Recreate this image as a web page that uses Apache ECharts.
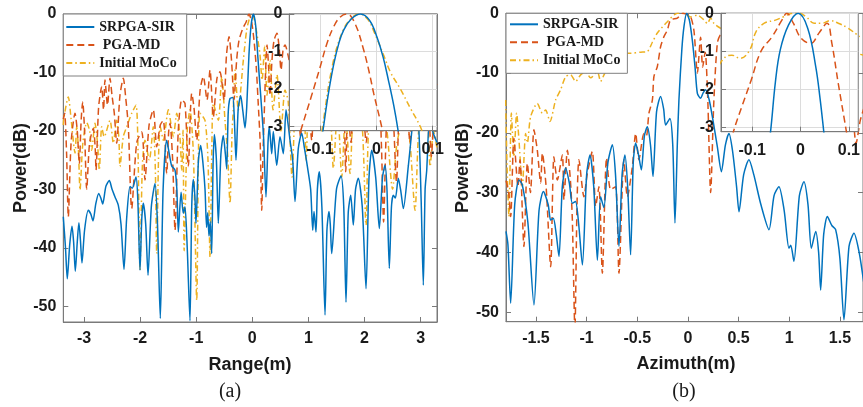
<!DOCTYPE html>
<html><head><meta charset="utf-8">
<script src="https://cdn.jsdelivr.net/npm/echarts@6/dist/echarts.min.js"></script>
<style>html,body{margin:0;padding:0;background:#fff}#c{width:863px;height:407px}</style>
</head><body><div id="c"></div>
<script>
// ---------- names & ticks ----------
const seriesNames = ['SRPGA-SIR', 'PGA-MD', 'Initial MoCo'];
const rangeTicks = [-3, -2, -1, 0, 1, 2, 3];
const azimuthTicks = [-1.5, -1, -0.5, 0, 0.5, 1, 1.5];
const powerTicks = [-50, -40, -30, -20, -10, 0];
const insetXTicks = [-0.1, 0, 0.1];
const insetYTicks = [-3, -2, -1, 0];
const rangeLimits = [-3.369, 3.292];
const azimuthLimits = [-1.796, 1.728];
const powerLimitsA = [-52.7, 0];
const powerLimitsB = [-51.6, 0];
const insetXLimitsA = [-0.1545, 0.1076];
const insetXLimitsB = [-0.1646, 0.1194];
const insetYLimits = [-3.11, 0];

// ---------- (a) Range profile ----------
const rangeSRPGA = [[-3.369,-34.7],[-3.330,-40.0],[-3.298,-45.3],[-3.255,-39.5],[-3.214,-36.3],[-3.185,-39.0],[-3.155,-44.0],[-3.120,-39.0],[-3.091,-35.7],[-3.065,-38.5],[-3.036,-42.6],[-2.990,-37.0],[-2.923,-33.6],[-2.880,-34.2],[-2.840,-35.4],[-2.790,-32.5],[-2.738,-30.7],[-2.700,-31.5],[-2.667,-32.5],[-2.610,-29.5],[-2.549,-28.5],[-2.500,-30.0],[-2.447,-31.3],[-2.389,-32.7],[-2.340,-36.0],[-2.287,-43.7],[-2.240,-35.0],[-2.180,-29.5],[-2.140,-29.8],[-2.073,-27.9],[-2.040,-32.0],[-2.002,-43.8],[-1.970,-35.0],[-1.943,-32.4],[-1.900,-36.0],[-1.859,-44.7],[-1.800,-33.0],[-1.734,-29.0],[-1.690,-36.0],[-1.640,-52.1],[-1.590,-30.0],[-1.526,-21.6],[-1.470,-24.5],[-1.437,-26.0],[-1.378,-26.7],[-1.345,-30.0],[-1.319,-37.3],[-1.270,-30.5],[-1.230,-34.1],[-1.200,-33.0],[-1.160,-40.0],[-1.111,-52.5],[-1.080,-33.0],[-1.052,-28.3],[-1.025,-31.0],[-1.004,-35.8],[-0.960,-25.0],[-0.920,-22.5],[-0.880,-25.5],[-0.843,-30.0],[-0.815,-36.5],[-0.795,-34.0],[-0.772,-38.0],[-0.750,-35.5],[-0.724,-41.0],[-0.700,-26.0],[-0.677,-20.6],[-0.640,-25.0],[-0.606,-35.8],[-0.560,-24.0],[-0.517,-20.8],[-0.480,-24.0],[-0.456,-26.5],[-0.430,-17.0],[-0.400,-14.5],[-0.350,-14.3],[-0.320,-18.0],[-0.291,-25.0],[-0.250,-16.0],[-0.207,-14.0],[-0.170,-16.5],[-0.130,-19.5],[-0.100,-16.0],[-0.060,-7.0],[-0.020,-1.8],[0.020,0],[0.060,-2.0],[0.100,-7.5],[0.150,-14.0],[0.200,-21.0],[0.244,-31.3],[0.280,-22.0],[0.303,-19.3],[0.346,-23.9],[0.374,-20.1],[0.435,-25.9],[0.494,-21.0],[0.553,-23.9],[0.601,-16.4],[0.640,-19.0],[0.672,-21.6],[0.720,-25.0],[0.761,-32.1],[0.820,-23.0],[0.881,-20.4],[0.930,-23.0],[0.980,-26.0],[1.040,-30.0],[1.077,-37.0],[1.100,-33.8],[1.135,-37.3],[1.160,-30.0],[1.194,-27.0],[1.240,-33.0],[1.296,-51.5],[1.330,-37.0],[1.367,-33.8],[1.390,-36.0],[1.415,-41.0],[1.500,-30.0],[1.581,-27.7],[1.630,-33.0],[1.670,-49.3],[1.710,-34.0],[1.754,-31.0],[1.800,-36.1],[1.840,-30.0],[1.889,-28.1],[1.960,-33.0],[2.027,-47.0],[2.080,-28.0],[2.128,-23.3],[2.200,-28.0],[2.264,-36.7],[2.320,-28.0],[2.365,-25.9],[2.400,-30.0],[2.442,-43.5],[2.480,-33.0],[2.513,-31.0],[2.550,-31.5],[2.602,-28.1],[2.650,-30.5],[2.692,-33.3],[2.781,-26.0],[2.841,-20.2],[2.900,-14.0],[2.960,-18.0],[3.010,-32.0],[3.048,-46.4],[3.080,-30.0],[3.109,-26.7],[3.160,-18.0],[3.226,-20.4],[3.292,-22.0]];
const rangePGA = [[-3.369,-18.0],[-3.345,-17.0],[-3.310,-24.0],[-3.280,-34.7],[-3.230,-22.0],[-3.160,-17.0],[-3.120,-20.0],[-3.084,-25.6],[-3.050,-18.0],[-3.023,-15.0],[-2.990,-20.0],[-2.952,-30.0],[-2.900,-22.0],[-2.834,-19.6],[-2.800,-23.0],[-2.786,-26.7],[-2.740,-16.0],[-2.684,-12.4],[-2.652,-16.4],[-2.626,-11.3],[-2.581,-15.6],[-2.537,-11.0],[-2.500,-14.0],[-2.460,-17.0],[-2.417,-22.1],[-2.360,-14.0],[-2.299,-11.0],[-2.260,-14.0],[-2.210,-19.3],[-2.150,-33.3],[-2.060,-22.0],[-1.971,-20.2],[-1.940,-23.0],[-1.913,-28.4],[-1.840,-19.0],[-1.765,-16.4],[-1.704,-22.7],[-1.640,-19.0],[-1.586,-18.2],[-1.526,-27.3],[-1.490,-20.0],[-1.467,-18.7],[-1.420,-25.0],[-1.378,-37.0],[-1.320,-20.0],[-1.258,-14.7],[-1.200,-15.3],[-1.141,-26.1],[-1.100,-16.0],[-1.080,-13.6],[-1.040,-16.0],[-0.991,-21.6],[-0.930,-13.0],[-0.873,-10.7],[-0.807,-14.7],[-0.754,-9.6],[-0.695,-17.6],[-0.630,-11.0],[-0.576,-9.9],[-0.504,-14.7],[-0.460,-7.0],[-0.415,-3.9],[-0.370,-8.0],[-0.326,-14.7],[-0.280,-8.0],[-0.237,-4.5],[-0.166,-2.4],[-0.112,-1.4],[-0.059,0],[-0.010,-1.5],[0.030,-4.5],[0.070,-9.0],[0.102,-14.7],[0.140,-22.0],[0.168,-33.6],[0.190,-24.0],[0.209,-18.2],[0.240,-9.0],[0.262,-5.3],[0.290,-9.0],[0.316,-13.9],[0.350,-8.0],[0.387,-4.5],[0.440,-3.3],[0.480,-6.0],[0.512,-9.6],[0.550,-6.0],[0.583,-5.3],[0.636,-7.0],[0.700,-10.0],[0.800,-14.0],[0.860,-21.0],[0.920,-12.0],[1.000,-15.0],[1.060,-21.6],[1.120,-13.0],[1.300,-12.0],[1.500,-13.0],[1.620,-15.0],[1.665,-27.0],[1.700,-16.0],[1.760,-22.0],[1.820,-14.0],[1.950,-15.0],[2.030,-22.0],[2.100,-13.0],[2.250,-14.0],[2.300,-22.0],[2.340,-35.6],[2.380,-22.0],[2.420,-14.0],[2.500,-16.0],[2.570,-28.7],[2.640,-15.0],[2.750,-16.0],[2.810,-22.0],[2.880,-14.0],[3.050,-13.0],[3.150,-18.0],[3.190,-24.4],[3.250,-15.0],[3.292,-12.0]];
const rangeMoCo = [[-3.369,-19.0],[-3.356,-17.6],[-3.280,-14.2],[-3.230,-18.0],[-3.160,-23.8],[-3.130,-19.3],[-3.100,-23.0],[-3.071,-30.1],[-3.020,-22.0],[-2.950,-18.6],[-2.900,-20.0],[-2.863,-23.3],[-2.804,-18.7],[-2.760,-22.0],[-2.727,-26.7],[-2.684,-19.3],[-2.640,-21.0],[-2.537,-18.2],[-2.478,-22.1],[-2.417,-18.2],[-2.380,-21.0],[-2.358,-26.1],[-2.300,-21.0],[-2.239,-19.3],[-2.150,-17.0],[-2.073,-15.6],[-2.040,-22.0],[-2.002,-43.8],[-1.960,-26.0],[-1.913,-21.6],[-1.836,-25.0],[-1.765,-19.3],[-1.730,-26.0],[-1.704,-41.0],[-1.670,-24.0],[-1.640,-19.3],[-1.586,-21.6],[-1.497,-16.4],[-1.408,-21.0],[-1.348,-17.0],[-1.290,-21.0],[-1.258,-26.7],[-1.235,-19.9],[-1.215,-40.5],[-1.160,-20.0],[-1.111,-16.4],[-1.050,-24.0],[-0.991,-49.0],[-0.960,-24.0],[-0.932,-17.0],[-0.843,-18.2],[-0.790,-25.0],[-0.754,-41.6],[-0.720,-22.0],[-0.695,-15.3],[-0.606,-18.2],[-0.545,-10.7],[-0.487,-18.2],[-0.440,-24.0],[-0.398,-32.4],[-0.360,-20.0],[-0.339,-16.4],[-0.308,-9.6],[-0.250,-16.4],[-0.160,-7.9],[-0.100,-2.7],[-0.041,-0.5],[-0.005,0],[0.020,-0.3],[0.070,-2.7],[0.137,-7.0],[0.174,-11.3],[0.220,-5.5],[0.262,-13.9],[0.316,-7.9],[0.369,-16.4],[0.440,-10.4],[0.512,-20.0],[0.583,-13.0],[0.640,-15.0],[0.708,-27.9],[0.780,-14.0],[0.900,-12.0],[0.960,-25.0],[1.030,-13.0],[1.200,-14.0],[1.300,-19.0],[1.380,-16.0],[1.444,-26.4],[1.520,-16.0],[1.594,-27.9],[1.660,-17.0],[1.742,-27.3],[1.820,-15.0],[1.950,-18.0],[2.027,-36.1],[2.100,-16.0],[2.300,-15.0],[2.400,-20.0],[2.500,-30.0],[2.580,-22.0],[2.700,-18.0],[2.800,-21.0],[2.900,-33.6],[2.980,-18.0],[3.100,-16.0],[3.170,-26.1],[3.230,-20.0],[3.292,-23.0]];
// inset (a)
const rangeZoomSRPGA = [[-0.100,-3.6],[-0.0947,-3.1],[-0.086,-2.2],[-0.0758,-1.35],[-0.066,-0.75],[-0.058,-0.43],[-0.045,-0.14],[-0.028,0],[-0.012,-0.17],[0.0012,-0.62],[0.012,-1.15],[0.0219,-1.8],[0.031,-2.45],[0.0385,-3.1],[0.044,-3.7]];
const rangeZoomPGA = [[-0.140,-3.4],[-0.132,-3.0],[-0.1155,-2.2],[-0.0995,-1.4],[-0.088,-0.8],[-0.0758,-0.34],[-0.064,-0.08],[-0.052,0],[-0.038,-0.25],[-0.0225,-0.96],[-0.012,-1.6],[-0.0048,-2.11],[0.0101,-3.05],[0.014,-3.4]];
const rangeZoomMoCo = [[-0.100,-3.5],[-0.0965,-3.1],[-0.077,-1.3],[-0.058,-0.4],[-0.042,-0.08],[-0.030,0],[-0.015,-0.15],[-0.0048,-0.45],[0.013,-1.1],[0.025,-1.55],[0.0426,-2.0],[0.060,-2.5],[0.078,-3.0],[0.085,-3.3]];

// ---------- (b) Azimuth profile ----------
const azimuthSRPGA = [[-1.796,-36.5],[-1.777,-38.7],[-1.750,-48.5],[-1.710,-32.0],[-1.668,-27.9],[-1.635,-28.7],[-1.580,-35.0],[-1.520,-48.8],[-1.470,-33.0],[-1.427,-29.8],[-1.380,-32.0],[-1.355,-34.6],[-1.329,-34.3],[-1.300,-37.0],[-1.273,-40.7],[-1.240,-29.0],[-1.207,-25.9],[-1.170,-28.5],[-1.141,-31.8],[-1.110,-31.5],[-1.080,-35.0],[-1.042,-42.1],[-1.000,-27.0],[-0.967,-23.7],[-0.930,-29.0],[-0.894,-41.3],[-0.862,-30.7],[-0.830,-32.5],[-0.790,-25.0],[-0.746,-22.0],[-0.715,-27.0],[-0.681,-39.0],[-0.650,-27.0],[-0.622,-23.7],[-0.595,-29.0],[-0.566,-40.4],[-0.540,-25.0],[-0.516,-21.7],[-0.490,-23.5],[-0.460,-26.2],[-0.430,-20.5],[-0.401,-19.0],[-0.370,-22.0],[-0.345,-27.3],[-0.310,-16.5],[-0.270,-13.9],[-0.240,-16.0],[-0.220,-18.7],[-0.178,-17.6],[-0.150,-22.0],[-0.128,-35.1],[-0.105,-22.0],[-0.089,-14.5],[-0.060,-6.0],[-0.039,-2.2],[-0.013,0],[0.015,-1.2],[0.043,-4.5],[0.070,-9.0],[0.093,-13.4],[0.125,-14.2],[0.150,-13.3],[0.175,-12.8],[0.210,-14.5],[0.241,-17.3],[0.290,-22.3],[0.330,-26.5],[0.370,-22.0],[0.405,-20.1],[0.440,-23.0],[0.480,-29.0],[0.504,-33.2],[0.550,-27.0],[0.602,-24.5],[0.650,-27.0],[0.720,-32.0],[0.800,-36.2],[0.850,-30.5],[0.898,-29.0],[0.950,-33.0],[0.997,-39.3],[1.015,-38.8],[1.046,-41.5],[1.100,-30.5],[1.145,-28.2],[1.185,-32.0],[1.218,-39.3],[1.261,-36.5],[1.290,-40.0],[1.310,-46.3],[1.340,-37.0],[1.376,-34.0],[1.420,-35.5],[1.458,-36.2],[1.500,-41.0],[1.540,-51.3],[1.590,-39.0],[1.639,-36.8],[1.690,-40.0],[1.734,-44.9]];
const azimuthPGA = [[-1.796,-28.0],[-1.770,-30.0],[-1.750,-34.0],[-1.718,-20.9],[-1.678,-29.0],[-1.658,-24.5],[-1.619,-39.0],[-1.585,-25.1],[-1.555,-30.0],[-1.520,-19.5],[-1.487,-22.9],[-1.454,-28.4],[-1.437,-23.4],[-1.400,-29.0],[-1.355,-42.4],[-1.323,-24.0],[-1.289,-27.9],[-1.240,-23.7],[-1.224,-31.2],[-1.190,-22.9],[-1.160,-28.0],[-1.141,-34.6],[-1.116,-53.0],[-1.095,-32.0],[-1.076,-24.5],[-1.027,-30.7],[-0.993,-26.8],[-0.944,-23.1],[-0.911,-32.3],[-0.879,-29.0],[-0.845,-43.5],[-0.803,-24.2],[-0.763,-29.5],[-0.714,-29.0],[-0.681,-43.5],[-0.632,-24.5],[-0.598,-30.7],[-0.549,-25.7],[-0.516,-20.1],[-0.484,-24.5],[-0.434,-20.1],[-0.410,-20.5],[-0.385,-16.7],[-0.351,-14.5],[-0.336,-10.6],[-0.302,-8.9],[-0.270,-5.6],[-0.237,-3.9],[-0.203,-2.8],[-0.171,-1.1],[-0.105,-0.8],[-0.055,0],[-0.023,-0.1],[0.027,-0.6],[0.060,-3.0],[0.093,-10.0],[0.125,-4.0],[0.145,-9.0],[0.170,-6.5],[0.195,-14.0],[0.224,-30.0],[0.255,-15.0],[0.290,-5.0],[0.323,-3.5],[0.400,-2.5],[0.550,-6.0],[0.700,-4.0],[0.850,-9.0],[1.000,-6.0],[1.150,-10.0],[1.300,-8.0],[1.450,-12.0],[1.580,-10.0],[1.620,-15.0],[1.660,-21.8],[1.700,-18.0],[1.734,-16.0]];
const azimuthMoCo = [[-1.800,-14.5],[-1.783,-27.3],[-1.767,-34.0],[-1.743,-16.7],[-1.718,-24.0],[-1.691,-16.7],[-1.668,-21.2],[-1.635,-29.0],[-1.602,-20.1],[-1.585,-21.7],[-1.553,-17.3],[-1.487,-15.1],[-1.437,-16.7],[-1.405,-16.2],[-1.362,-18.1],[-1.306,-14.5],[-1.257,-12.8],[-1.207,-10.6],[-1.158,-10.3],[-1.109,-11.4],[-1.059,-10.3],[-1.010,-9.8],[-0.961,-10.8],[-0.894,-9.8],[-0.862,-11.4],[-0.829,-10.3],[-0.796,-9.1],[-0.763,-6.7],[-0.697,-6.7],[-0.566,-6.7],[-0.467,-6.5],[-0.401,-6.4],[-0.350,-4.8],[-0.302,-3.3],[-0.203,-1.4],[-0.105,0],[-0.039,0],[0.027,-0.6],[0.093,-0.3],[0.158,-1.1],[0.192,-1.7],[0.224,-0.8],[0.257,-1.7],[0.323,-2.5],[0.500,-4.0],[0.800,-5.0],[1.100,-6.0],[1.400,-6.0],[1.734,-7.0]];
// inset (b)
const azimuthZoomSRPGA = [[-0.068,-3.6],[-0.062,-3.1],[-0.052,-1.8],[-0.042,-0.96],[-0.025,-0.31],[-0.005,0],[0.0148,-0.39],[0.0314,-1.40],[0.040,-2.2],[0.048,-3.1],[0.053,-3.7]];
const azimuthZoomPGA = [[-0.145,-3.5],[-0.1386,-3.1],[-0.120,-2.4],[-0.102,-1.75],[-0.082,-1.0],[-0.0586,-0.61],[-0.0386,-0.18],[-0.0286,0],[-0.015,-0.26],[0.0014,-0.66],[0.0214,-0.79],[0.038,-0.52],[0.0548,-0.26],[0.0648,-0.79],[0.078,-1.84],[0.0948,-3.1],[0.100,-3.5]];
const azimuthZoomMoCo = [[-0.1686,-1.36],[-0.155,-1.14],[-0.142,-1.1],[-0.125,-1.18],[-0.105,-0.96],[-0.092,-0.48],[-0.075,-0.26],[-0.052,-0.18],[-0.035,-0.09],[-0.015,0],[-0.003,0],[0.0114,-0.09],[0.028,-0.26],[0.045,-0.26],[0.061,-0.19],[0.078,-0.26],[0.098,-0.39],[0.118,-0.57],[0.125,-0.62]];

// ---------- styling ----------
const COLORS = {'SRPGA-SIR': '#0072BD', 'PGA-MD': '#D95319', 'Initial MoCo': '#EDB120'};
const DASH = {'SRPGA-SIR': 'solid', 'PGA-MD': [7, 4], 'Initial MoCo': [6, 3, 1.5, 3]};
const AX = '#7a7a7a';
const LABEL = {color: '#1a1a1a', fontSize: 16, fontWeight: 'bold', fontFamily: 'Liberation Sans, Arial, sans-serif'};

function xAx(grid, lim, ticks, opt) {
  return Object.assign({
    type: 'value', gridIndex: grid, min: lim[0], max: lim[1], position: 'bottom',
    axisLine: {show: true, onZero: false, lineStyle: {color: AX, width: 1}},
    axisTick: {show: true, inside: true, length: 5, customValues: ticks, lineStyle: {color: AX}},
    axisLabel: Object.assign({customValues: ticks, margin: 9}, LABEL),
    splitLine: {show: false}
  }, opt || {});
}
function yAx(grid, lim, ticks, opt) {
  return Object.assign({
    type: 'value', gridIndex: grid, min: lim[0], max: lim[1], position: 'left',
    axisLine: {show: true, onZero: false, lineStyle: {color: AX, width: 1}},
    axisTick: {show: true, inside: true, length: 5, customValues: ticks, lineStyle: {color: AX}},
    axisLabel: Object.assign({customValues: ticks, margin: 7}, LABEL),
    splitLine: {show: false}
  }, opt || {});
}
const insetSplit = {show: true, lineStyle: {color: '#dcdcdc', width: 1}};

function ser(name, data, idx, z, smooth) {
  return {
    name, type: 'line', data, xAxisIndex: idx, yAxisIndex: idx, symbol: 'none',
    smooth, z, color: COLORS[name], animation: false, clip: true,
    lineStyle: {color: COLORS[name], width: 1.5, type: DASH[name]}
  };
}

function legendAt(left, top, pad) {
  return {
    left, top, orient: 'vertical', data: seriesNames, z: 20,
    itemWidth: 28, itemHeight: 14, itemGap: 4, padding: pad,
    backgroundColor: '#fff', borderColor: '#808080', borderWidth: 1,
    itemStyle: {opacity: 0},
    formatter: n => (n === 'PGA-MD' ? ' PGA-MD' : n),
    textStyle: {fontFamily: 'Liberation Serif, Times New Roman, serif', fontWeight: 'bold', fontSize: 14, color: '#1a1a1a', lineHeight: 14},
    selectedMode: false
  };
}

const chart = echarts.init(document.getElementById('c'), null, {renderer: 'canvas'});
chart.setOption({
  animation: false,
  backgroundColor: '#fff',
  grid: [
    {left: 63.3, top: 14, width: 373.7, height: 308, show: true, borderColor: AX, borderWidth: 1, backgroundColor: 'transparent', z: 0},
    {left: 289.3, top: 14, width: 147.7, height: 116.7, show: true, borderColor: AX, borderWidth: 1, backgroundColor: '#fff', z: 10},
    {left: 506, top: 13.3, width: 357, height: 308.4, show: true, borderColor: AX, borderWidth: 1, backgroundColor: 'transparent', z: 0},
    {left: 721, top: 13.3, width: 142, height: 118.4, show: true, borderColor: AX, borderWidth: 1, backgroundColor: '#fff', z: 10}
  ],
  xAxis: [
    xAx(0, rangeLimits, rangeTicks),
    xAx(1, insetXLimitsA, insetXTicks, {z: 11, splitLine: insetSplit, axisLabel: Object.assign({customValues: insetXTicks, margin: 11}, LABEL)}),
    xAx(2, azimuthLimits, azimuthTicks),
    xAx(3, insetXLimitsB, insetXTicks, {z: 11, splitLine: insetSplit, axisLabel: Object.assign({customValues: insetXTicks, margin: 11}, LABEL)}),
    xAx(0, rangeLimits, rangeTicks, {position: 'top', axisLabel: {show: false}}),
    xAx(2, azimuthLimits, azimuthTicks, {position: 'top', axisLabel: {show: false}})
  ],
  yAxis: [
    yAx(0, powerLimitsA, powerTicks),
    yAx(1, insetYLimits, insetYTicks, {z: 11, splitLine: insetSplit}),
    yAx(2, powerLimitsB, powerTicks),
    yAx(3, insetYLimits, insetYTicks, {z: 11, splitLine: insetSplit}),
    yAx(0, powerLimitsA, powerTicks, {position: 'right', axisLabel: {show: false}}),
    yAx(2, powerLimitsB, powerTicks, {position: 'right', axisLabel: {show: false}})
  ],
  legend: [legendAt(63.3, 14, [6, 10, 6, 2]), legendAt(506, 13.3, [4, 7, 6, 3])],
  series: [
    ser('Initial MoCo', rangeMoCo, 0, 2, 0.25),
    ser('PGA-MD', rangePGA, 0, 3, 0.25),
    ser('SRPGA-SIR', rangeSRPGA, 0, 4, 0.25),
    ser('Initial MoCo', rangeZoomMoCo, 1, 12, 0.4),
    ser('PGA-MD', rangeZoomPGA, 1, 13, 0.4),
    ser('SRPGA-SIR', rangeZoomSRPGA, 1, 14, 0.4),
    ser('Initial MoCo', azimuthMoCo, 2, 2, 0.25),
    ser('PGA-MD', azimuthPGA, 2, 3, 0.25),
    ser('SRPGA-SIR', azimuthSRPGA, 2, 4, 0.25),
    ser('Initial MoCo', azimuthZoomMoCo, 3, 12, 0.4),
    ser('PGA-MD', azimuthZoomPGA, 3, 13, 0.4),
    ser('SRPGA-SIR', azimuthZoomSRPGA, 3, 14, 0.4)
  ],
  graphic: [
    {type: 'text', x: 21, y: 168, rotation: Math.PI / 2, z: 30, style: {text: 'Power(dB)', fill: '#1a1a1a', fontSize: 18, fontWeight: 'bold', fontFamily: 'Liberation Sans, Arial, sans-serif', align: 'center', verticalAlign: 'middle'}},
    {type: 'text', x: 463.5, y: 168, rotation: Math.PI / 2, z: 30, style: {text: 'Power(dB)', fill: '#1a1a1a', fontSize: 18, fontWeight: 'bold', fontFamily: 'Liberation Sans, Arial, sans-serif', align: 'center', verticalAlign: 'middle'}},
    {type: 'text', x: 250, y: 365, z: 30, style: {text: 'Range(m)', fill: '#1a1a1a', fontSize: 18, fontWeight: 'bold', fontFamily: 'Liberation Sans, Arial, sans-serif', align: 'center', verticalAlign: 'middle'}},
    {type: 'text', x: 686, y: 364, z: 30, style: {text: 'Azimuth(m)', fill: '#1a1a1a', fontSize: 18, fontWeight: 'bold', fontFamily: 'Liberation Sans, Arial, sans-serif', align: 'center', verticalAlign: 'middle'}},
    {type: 'text', x: 230, y: 392, z: 30, style: {text: '(a)', fill: '#1a1a1a', fontSize: 20, fontFamily: 'Liberation Serif, Times New Roman, serif', align: 'center', verticalAlign: 'middle'}},
    {type: 'text', x: 684, y: 392, z: 30, style: {text: '(b)', fill: '#1a1a1a', fontSize: 20, fontFamily: 'Liberation Serif, Times New Roman, serif', align: 'center', verticalAlign: 'middle'}}
  ]
});
</script>
</body></html>
